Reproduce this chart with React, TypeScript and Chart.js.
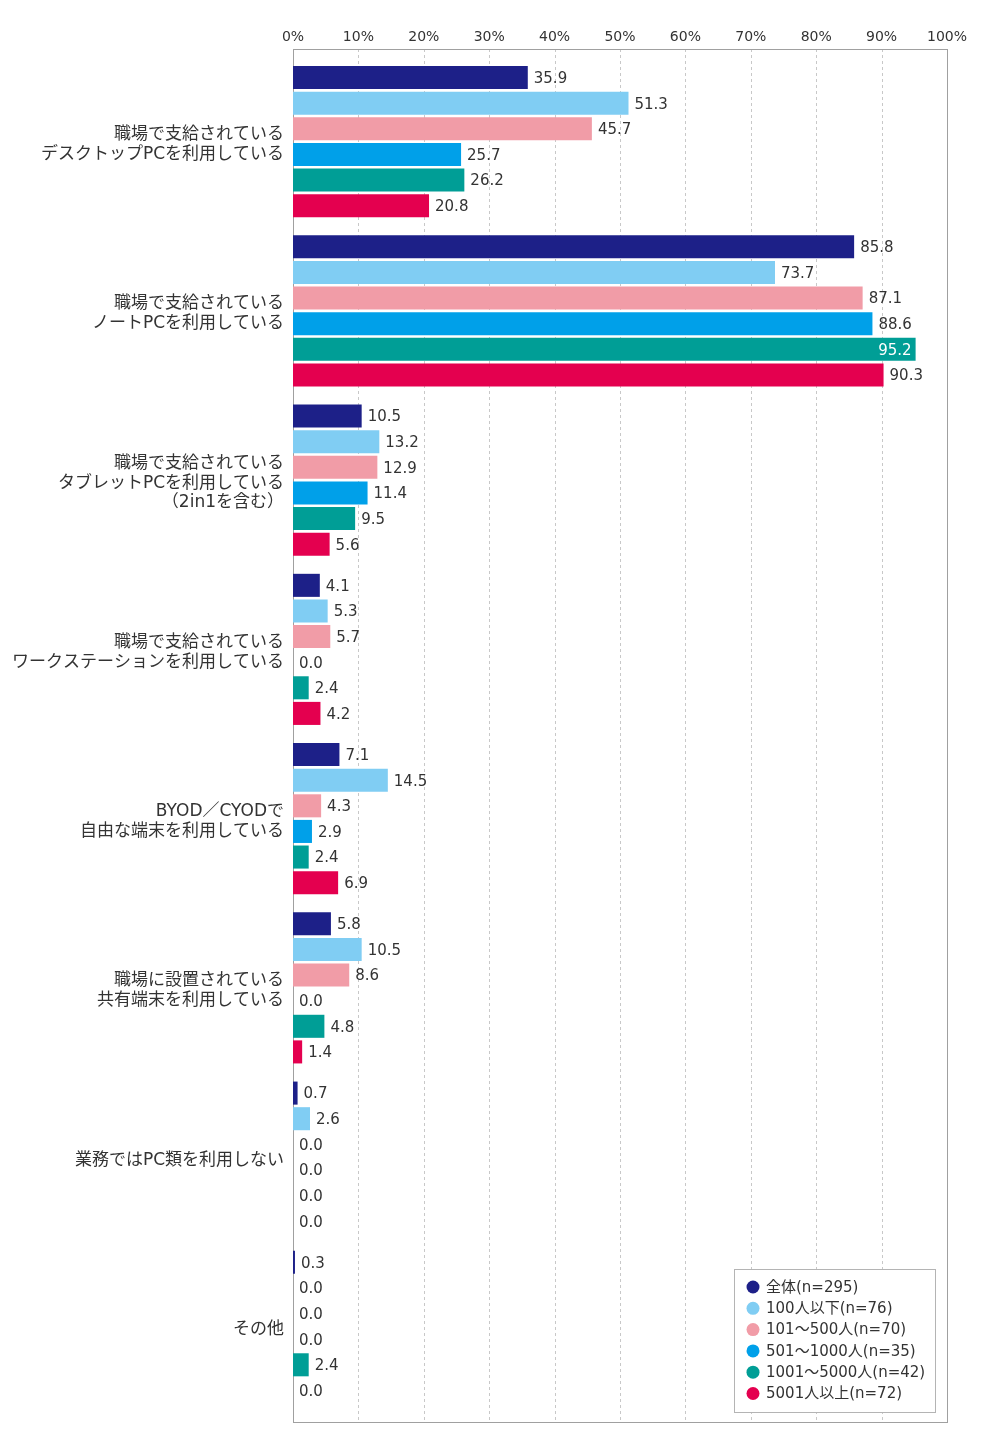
import React, { useEffect, useRef } from "react";
import { Chart, registerables } from "chart.js";

Chart.register(...registerables);

const categories: (string | string[])[] = [
  ["職場で支給されている", "デスクトップPCを利用している"],
  ["職場で支給されている", "ノートPCを利用している"],
  ["職場で支給されている", "タブレットPCを利用している", "（2in1を含む）"],
  ["職場で支給されている", "ワークステーションを利用している"],
  ["BYOD／CYODで", "自由な端末を利用している"],
  ["職場に設置されている", "共有端末を利用している"],
  "業務ではPC類を利用しない",
  "その他",
];

const seriesNames = [
  "全体(n=295)",
  "100人以下(n=76)",
  "101～500人(n=70)",
  "501～1000人(n=35)",
  "1001～5000人(n=42)",
  "5001人以上(n=72)",
];

const allValues = [35.9, 85.8, 10.5, 4.1, 7.1, 5.8, 0.7, 0.3];
const under100Values = [51.3, 73.7, 13.2, 5.3, 14.5, 10.5, 2.6, 0.0];
const s101to500Values = [45.7, 87.1, 12.9, 5.7, 4.3, 8.6, 0.0, 0.0];
const s501to1000Values = [25.7, 88.6, 11.4, 0.0, 2.9, 0.0, 0.0, 0.0];
const s1001to5000Values = [26.2, 95.2, 9.5, 2.4, 2.4, 4.8, 0.0, 2.4];
const over5001Values = [20.8, 90.3, 5.6, 4.2, 6.9, 1.4, 0.0, 0.0];

const xTicks = [0, 10, 20, 30, 40, 50, 60, 70, 80, 90, 100];

const colors = ["#1d2088", "#80cdf3", "#f19ca7", "#00a0e9", "#009e96", "#e4004f"];

const FONT = "'DejaVu Sans', 'Noto Sans CJK JP', sans-serif";
const TEXT = "#333333";

const framePlugin = {
  id: "framePlugin",
  beforeDatasetsDraw(chart: any) {
    const { ctx, chartArea, scales } = chart;
    const top = chartArea.top - 8;
    const bottom = chartArea.bottom + 11;
    ctx.save();
    ctx.strokeStyle = "#c8c8c8";
    ctx.lineWidth = 1;
    ctx.setLineDash([3, 3]);
    xTicks.forEach((t) => {
      if (t === 0 || t === 100) return;
      const x = Math.round(scales.x.getPixelForValue(t)) + 0.5;
      ctx.beginPath();
      ctx.moveTo(x, top);
      ctx.lineTo(x, bottom);
      ctx.stroke();
    });
    ctx.setLineDash([]);
    ctx.strokeStyle = "#a0a0a0";
    const l = Math.round(chartArea.left) + 0.5;
    const r = Math.round(chartArea.right) + 0.5;
    ctx.strokeRect(l, Math.round(top) + 0.5, r - l, Math.round(bottom - top));
    ctx.restore();
  },
  afterDatasetsDraw(chart: any) {
    const { ctx } = chart;
    ctx.save();
    ctx.font = `15px ${FONT}`;
    ctx.textBaseline = "middle";
    chart.data.datasets.forEach((ds: any, di: number) => {
      const meta = chart.getDatasetMeta(di);
      meta.data.forEach((el: any, i: number) => {
        const v = ds.data[i] as number;
        const txt = v.toFixed(1);
        if (v >= 93) {
          ctx.fillStyle = "#ffffff";
          ctx.textAlign = "right";
          ctx.fillText(txt, el.x - 4, el.y + 1.5);
        } else {
          ctx.fillStyle = TEXT;
          ctx.textAlign = "left";
          ctx.fillText(txt, el.x + 6, el.y + 1.5);
        }
      });
    });
    ctx.restore();
  },
  afterDraw(chart: any) {
    const { ctx, chartArea } = chart;
    const right = chartArea.right - 12;
    const bottom = chartArea.bottom + 1;
    const w = 201;
    const h = 143;
    const left = right - w;
    const top = bottom - h;
    ctx.save();
    ctx.fillStyle = "#ffffff";
    ctx.fillRect(left, top, w, h);
    ctx.strokeStyle = "#b4b4b4";
    ctx.lineWidth = 1;
    ctx.strokeRect(Math.round(left) + 0.5, Math.round(top) + 0.5, w, h);
    ctx.font = `15px ${FONT}`;
    ctx.textBaseline = "middle";
    ctx.textAlign = "left";
    chart.data.datasets.forEach((ds: any, i: number) => {
      const y = top + 18 + i * 21.3;
      ctx.fillStyle = ds.backgroundColor;
      ctx.beginPath();
      ctx.arc(left + 19, y, 6.5, 0, Math.PI * 2);
      ctx.fill();
      ctx.fillStyle = TEXT;
      ctx.fillText(ds.label, left + 32, y + 1);
    });
    ctx.restore();
  },
};

export default function App() {
  const ref = useRef<HTMLCanvasElement>(null);
  useEffect(() => {
    if (!ref.current) return;
    const seriesValues = [
      allValues,
      under100Values,
      s101to500Values,
      s501to1000Values,
      s1001to5000Values,
      over5001Values,
    ];
    const chart = new Chart(ref.current, {
      type: "bar",
      data: {
        labels: categories,
        datasets: seriesNames.map((name, i) => ({
          label: name,
          data: seriesValues[i],
          backgroundColor: colors[i],
          borderWidth: 0,
          categoryPercentage: 0.908,
          barPercentage: 0.9,
        })),
      },
      options: {
        indexAxis: "y",
        responsive: false,
        animation: false,
        devicePixelRatio: 1,
        layout: { padding: { left: 0, top: 0, right: 53, bottom: 44 } },
        plugins: {
          legend: { display: false },
          tooltip: { enabled: false },
        },
        scales: {
          x: {
            position: "top",
            min: 0,
            max: 100,
            afterBuildTicks: (scale: any) => {
              scale.ticks = xTicks.map((v) => ({ value: v }));
            },
            afterFit: (scale: any) => {
              scale.height = 57;
            },
            grid: { display: false, drawTicks: false },
            border: { display: false },
            ticks: {
              padding: 11,
              color: TEXT,
              font: { family: FONT, size: 14 },
              maxRotation: 0,
              autoSkip: false,
              callback: (v: any) => `${v}%`,
            },
          },
          y: {
            afterFit: (scale: any) => {
              scale.width = 293;
            },
            grid: { display: false, drawTicks: false },
            border: { display: false },
            ticks: {
              padding: 9,
              labelOffset: 3,
              color: TEXT,
              font: { family: FONT, size: 17, lineHeight: 1.17 },
              autoSkip: false,
            },
          },
        },
      },
      plugins: [framePlugin],
    });
    return () => chart.destroy();
  }, []);
  return (
    <div style={{ position: "absolute", left: 0, top: 0, width: 1000, height: 1455, background: "#fff" }}>
      <canvas ref={ref} width={1000} height={1455} />
    </div>
  );
}
